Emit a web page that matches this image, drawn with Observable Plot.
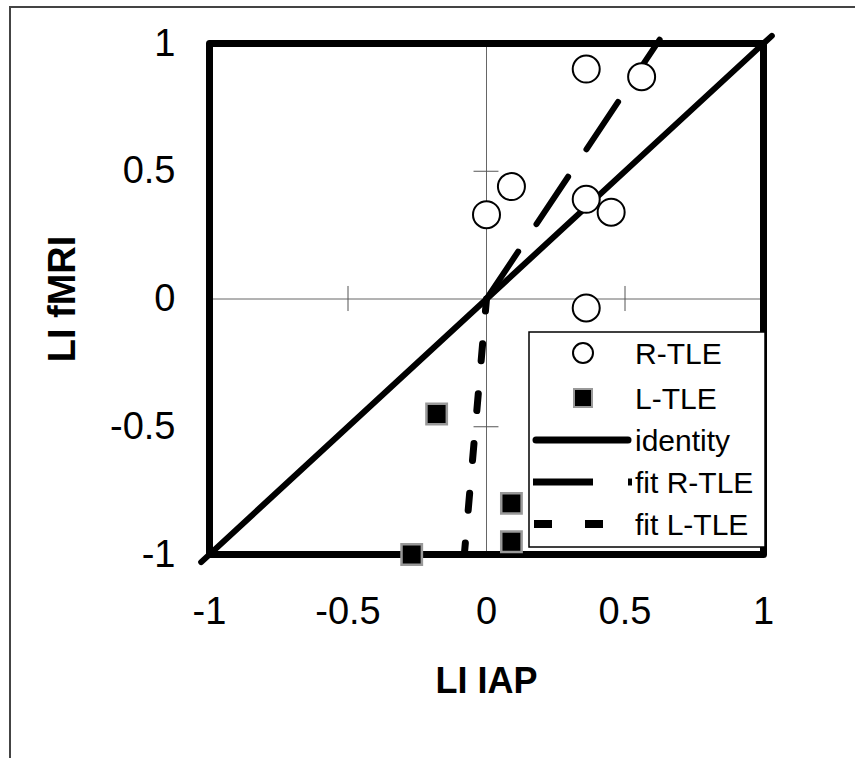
<!DOCTYPE html>
<html>
<head>
<meta charset="utf-8">
<script src="https://cdn.jsdelivr.net/npm/d3@7"></script>
<script src="https://cdn.jsdelivr.net/npm/@observablehq/plot@0.6"></script>
<style>
  html, body { margin: 0; padding: 0; background: #fff; }
  #wrap { position: relative; width: 855px; height: 758px; overflow: hidden; font-family: "Liberation Sans", Arial, sans-serif; }
  #outer { position: absolute; left: 9px; top: 6px; width: 850px; height: 760px; border-top: 2px solid #444; border-left: 2px solid #444; }
  #legend { position: absolute; left: 0; top: 0; }
</style>
</head>
<body>
<div id="wrap"><div id="outer"></div></div>
<script>
// ---- data ----
const xTicks = [-1, -0.5, 0, 0.5, 1];
const yTicks = [-1, -0.5, 0, 0.5, 1];
const crossTicks = [-0.5, 0.5];
const rTLE_x = [0.36, 0.56, 0.09, 0.0, 0.36, 0.45, 0.36];
const rTLE_y = [0.90, 0.87, 0.44, 0.33, 0.39, 0.34, -0.035];
const lTLE_x = [-0.18, -0.27, 0.09, 0.09];
const lTLE_y = [-0.45, -1.0, -0.80, -0.95];
const identity_x = [-1.03, 1.03];
const identity_y = [-1.03, 1.03];
const fitR_x = [0, 0.625];
const fitR_y = [0, 1.015];
const fitL_x = [0, -0.08];
const fitL_y = [0, -1.0];
const legendLabels = ["R-TLE", "L-TLE", "identity", "fit R-TLE", "fit L-TLE"];
const xLabel = "LI IAP";
const yLabel = "LI fMRI";

const rTLE = rTLE_x.map((x, i) => ({x, y: rTLE_y[i]}));
const lTLE = lTLE_x.map((x, i) => ({x, y: lTLE_y[i]}));
const identity = identity_x.map((x, i) => ({x, y: identity_y[i]}));
const fitR = fitR_x.map((x, i) => ({x, y: fitR_y[i]}));
const fitL = fitL_x.map((x, i) => ({x, y: fitL_y[i]}));

const font = "Liberation Sans, Arial, sans-serif";

const chart = Plot.plot({
  width: 855,
  height: 758,
  marginLeft: 209,
  marginRight: 92,
  marginTop: 43,
  marginBottom: 204,
  x: {domain: [-1, 1], axis: null},
  y: {domain: [-1, 1], axis: null},
  style: {fontFamily: font, background: "transparent", overflow: "visible"},
  marks: [
    Plot.ruleY([0], {stroke: "#666", strokeWidth: 1}),
    Plot.ruleX([0], {stroke: "#666", strokeWidth: 1}),
    Plot.ruleX(crossTicks, {x: d => d, y1: -0.049, y2: 0.049, stroke: "#555", strokeWidth: 1}),
    Plot.ruleY(crossTicks, {y: d => d, x1: -0.045, x2: 0.045, stroke: "#555", strokeWidth: 1}),
    Plot.frame({stroke: "black", strokeWidth: 7, strokeLinejoin: "round"}),
    Plot.line(identity, {x: "x", y: "y", stroke: "black", strokeWidth: 6, clip: false}),
    Plot.line(fitR, {x: "x", y: "y", stroke: "black", strokeWidth: 6, strokeDasharray: "57,33", clip: false}),
    Plot.line(fitL, {x: "x", y: "y", stroke: "black", strokeWidth: 7, strokeDasharray: "17,33", strokeDashoffset: 5, clip: false}),
    Plot.dot(rTLE, {x: "x", y: "y", r: 13.5, fill: "white", stroke: "black", strokeWidth: 2}),
    Plot.dot(lTLE, {x: "x", y: "y", symbol: "square", r: 11.5, fill: "black", stroke: "#999", strokeWidth: 2.5}),
    Plot.text(xTicks, {x: d => d, frameAnchor: "bottom", dy: 57, text: d => String(d), fontSize: 38, fill: "black", textAnchor: "middle", lineAnchor: "middle"}),
    Plot.text(yTicks, {y: d => d, frameAnchor: "left", dx: -34, text: d => String(d), fontSize: 38, fill: "black", textAnchor: "end", lineAnchor: "middle"}),
    Plot.text([xLabel], {frameAnchor: "bottom", dy: 127, text: d => d, fontSize: 36, fontWeight: "bold", fill: "black", textAnchor: "middle", lineAnchor: "middle"}),
    Plot.text([yLabel], {frameAnchor: "left", dx: -147, rotate: -90, text: d => d, fontSize: 38, fontWeight: "bold", fill: "black", textAnchor: "middle", lineAnchor: "middle"})
  ]
});

const wrap = document.getElementById("wrap");
chart.style.position = "absolute";
chart.style.left = "0px";
chart.style.top = "0px";
wrap.appendChild(chart);

// ---- legend overlay ----
const ns = "http://www.w3.org/2000/svg";
const lg = document.createElementNS(ns, "svg");
lg.setAttribute("id", "legend");
lg.setAttribute("width", 855);
lg.setAttribute("height", 758);
function el(tag, attrs) {
  const e = document.createElementNS(ns, tag);
  for (const k in attrs) e.setAttribute(k, attrs[k]);
  lg.appendChild(e);
  return e;
}
el("rect", {x: 529, y: 332, width: 236, height: 215, fill: "white", stroke: "black", "stroke-width": 1.5});
const rows = [353, 398, 440, 482, 524];
el("circle", {cx: 583, cy: rows[0], r: 10, fill: "white", stroke: "black", "stroke-width": 2});
el("rect", {x: 574, y: rows[1] - 9, width: 18, height: 18, fill: "black", stroke: "#999", "stroke-width": 2});
el("line", {x1: 536, x2: 628, y1: rows[2], y2: rows[2], stroke: "black", "stroke-width": 7, "stroke-linecap": "round"});
el("line", {x1: 533, x2: 632, y1: rows[3], y2: rows[3], stroke: "black", "stroke-width": 7, "stroke-dasharray": "60,35"});
el("line", {x1: 534, x2: 603, y1: rows[4], y2: rows[4], stroke: "black", "stroke-width": 8, "stroke-dasharray": "18,33"});
legendLabels.forEach((t, i) => {
  const tx = el("text", {x: 635, y: rows[i] + 11, "font-size": 30, "font-family": font, fill: "black"});
  tx.textContent = t;
});
wrap.appendChild(lg);
</script>
</body>
</html>
